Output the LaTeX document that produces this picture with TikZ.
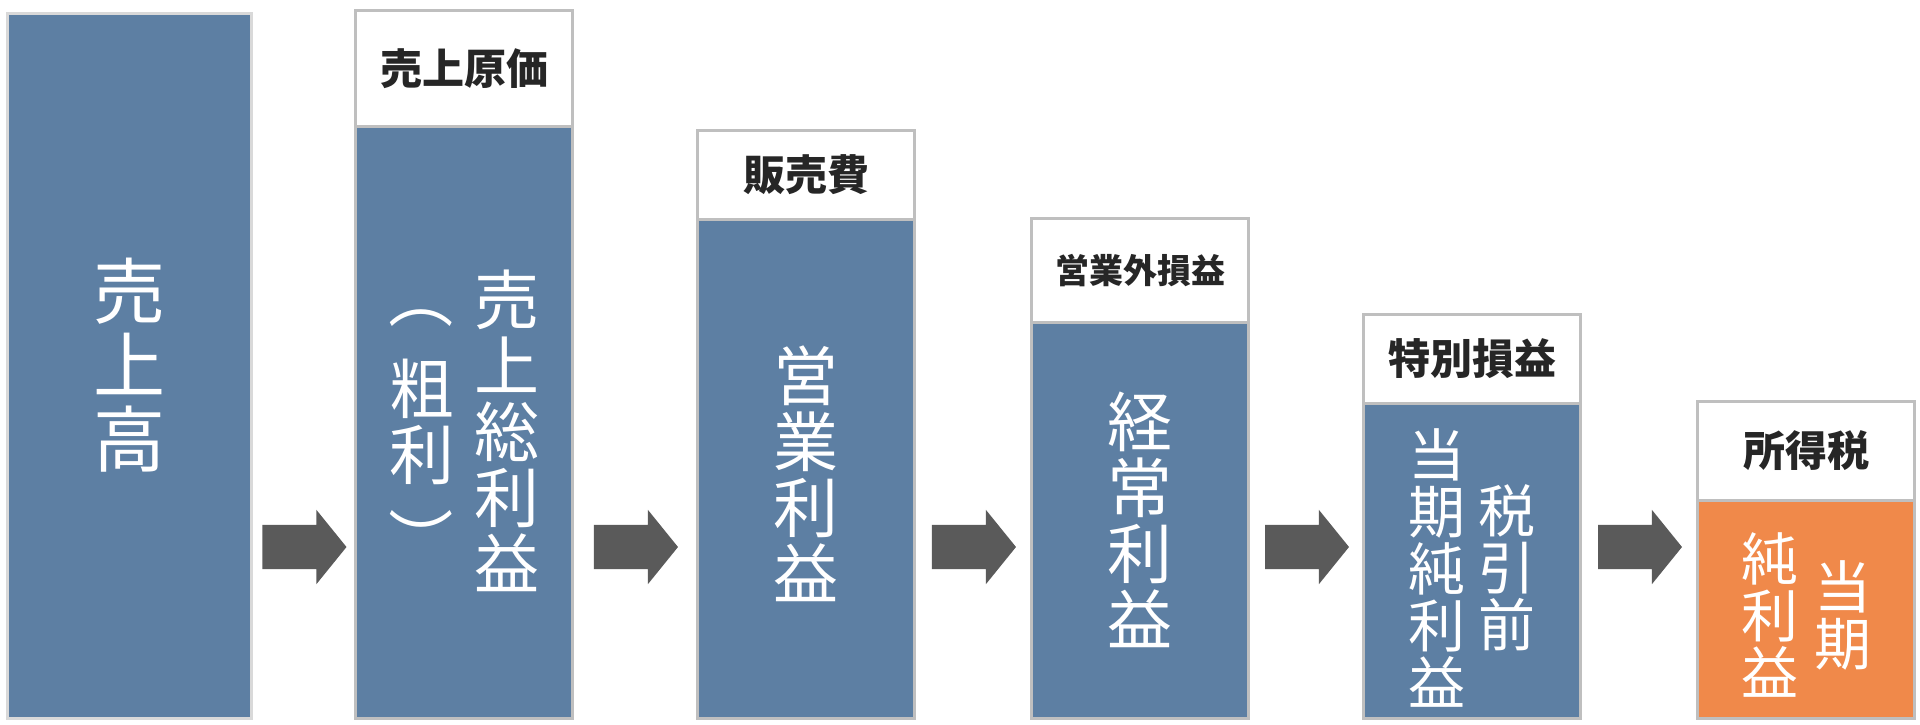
\documentclass[tikz,border=0pt]{standalone}
\usepackage{fontspec}
\usepackage{xcolor}
\usepackage{graphicx}
\usepackage{tikz}
\usetikzlibrary{positioning,shapes.arrows}

\newfontfamily\jp{Noto Sans CJK JP}

\definecolor{barblue}{HTML}{5D7FA3}
\definecolor{netorange}{HTML}{F0894A}
\definecolor{edgegray}{HTML}{BFBFBF}
\definecolor{arrowgray}{HTML}{5A5A5A}
\definecolor{labelgray}{HTML}{262626}

% one character per line, for the vertical labels
\makeatletter
\newcommand\tate[1]{\parbox[c]{1em}{\centering
  \baselineskip=\f@baselineskip\relax\lineskiplimit=-100pt #1}}
\makeatother
% moves a label down without changing its size
\newcommand\sink[2]{\raisebox{-#1}[\height][\depth]{#2}}
% the brackets, turned for vertical writing
\newcommand\vopen{\raisebox{26pt}[\height][\depth]{\rotatebox[origin=c]{-90}{（}}}
\newcommand\vclose{\raisebox{-19pt}[\height][\depth]{\rotatebox[origin=c]{-90}{）}}}

\tikzset{
  bar/.style={draw=edgegray, line width=3pt, fill=barblue, text=white,
    inner sep=0pt, outer sep=0pt, anchor=south west, minimum width=217pt},
  cost/.style={draw=edgegray, line width=3pt, fill=white, text=labelgray,
    inner sep=0pt, outer sep=0pt, minimum width=217pt,
    font=\jp\bfseries\fontsize{42}{44}\selectfont},
  flow/.style={single arrow, fill=arrowgray, inner xsep=0pt, inner ysep=22pt,
    outer sep=0pt, minimum height=84pt, minimum width=74pt,
    single arrow head extend=15pt, single arrow tip angle=102,
    single arrow head indent=0pt, xshift=-8pt},
  bigtate/.style={font=\jp\fontsize{72}{74}\selectfont},
  midtate/.style={font=\jp\fontsize{65}{66}\selectfont},
  smalltate/.style={font=\jp\fontsize{57}{57}\selectfont}
}

\begin{document}
\begin{tikzpicture}[x=1pt,y=-1pt]
  \useasboundingbox (0,0) rectangle (1920,724);
  \begin{scope}

    % the profit bars, all on the same floor:
    \node[bar, draw=edgegray!60, minimum width=244pt, minimum height=705pt, bigtate] (sales) at (7.5,718) {\tate{売\\上\\高}};
    \node[bar, minimum height=592pt, midtate] (gross) at (355.5,718) {\tate{\vopen\\粗\\利\\\vclose}\hspace{20pt}\sink{9pt}{\tate{売\\上\\総\\利\\益}}};
    \node[bar, minimum height=499pt, midtate] (operating) at (697.5,718) {\sink{5pt}{\tate{営\\業\\利\\益}}};
    \node[bar, minimum height=396pt, midtate] (ordinary) at (1031.5,718) {\tate{経\\常\\利\\益}};
    \node[bar, minimum height=315pt, smalltate] (pretax) at (1363.5,718) {\sink{7pt}{\tate{当\\期\\純\\利\\益}\hspace{13pt}\tate{税\\引\\前}}};
    \node[bar, fill=netorange, minimum height=218pt, smalltate] (net) at (1697.5,718) {\sink{6pt}{\tate{純\\利\\益}\hspace{16pt}\tate{当\\期}}};

    % what is taken off on top:
    \node[cost, minimum height=115.5pt, above=0pt of gross] (cogs) {売上原価};
    \node[cost, minimum height=88.5pt, above=0pt of operating] (selling) {販売費};
    \node[cost, minimum height=103.5pt, above=0pt of ordinary,
      font=\jp\bfseries\fontsize{34}{36}\selectfont] (nonop) {営業外損益};
    \node[cost, minimum height=88.5pt, above=0pt of pretax] (special) {特別損益};
    \node[cost, minimum height=98.5pt, above=0pt of net] (tax) {所得税};

    % arrows in between:
    \coordinate (row) at (0,547);
    \path (sales.east |- row) -- (gross.west |- row) node[midway, flow] (a1) {};
    \path (gross.east |- row) -- (operating.west |- row) node[midway, flow] (a2) {};
    \path (operating.east |- row) -- (ordinary.west |- row) node[midway, flow] (a3) {};
    \path (ordinary.east |- row) -- (pretax.west |- row) node[midway, flow] (a4) {};
    \path (pretax.east |- row) -- (net.west |- row) node[midway, flow] (a5) {};

  \end{scope}
\end{tikzpicture}
\end{document}
